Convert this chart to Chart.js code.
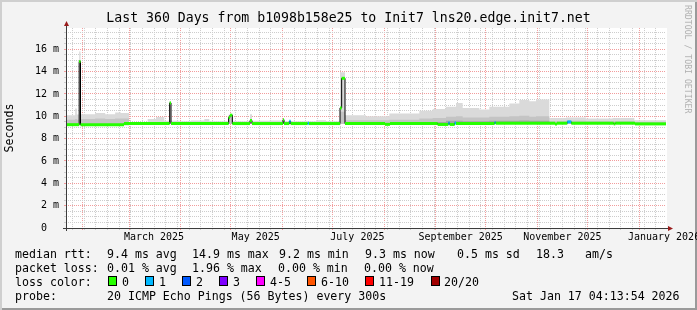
<!DOCTYPE html>
<html>
<head>
<meta charset="utf-8">
<script src="https://cdn.jsdelivr.net/npm/chart.js@4/dist/chart.umd.min.js"></script>
<style>
html, body { margin: 0; padding: 0; background: #fff; }
#wrap { position: relative; width: 697px; height: 310px; background: #f3f3f3;
  box-shadow: inset 2px 2px 0 #cfcfcf, inset -2px -2px 0 #9a9a9a;
  font-family: 'DejaVu Sans Mono', monospace; font-size: 11.6px; color: #000; overflow: hidden; }
#wrap canvas { position: absolute; left: 0; top: 0; }
.t { position: absolute; white-space: pre; line-height: 14px; }
.box { position: absolute; top: 276px; width: 9px; height: 10px; box-sizing: border-box; border: 1px solid #000; }
#mark { position: absolute; left: 692px; top: 5px; transform: rotate(90deg); transform-origin: 0 0;
  font-size: 8.2px; line-height: 8.2px; color: #b0b0b0; white-space: pre; }
</style>
</head>
<body>
<div id="wrap">
  <canvas id="myChart" width="697" height="310"></canvas>

  <div class="t" style="left:15px;top:247px">median rtt:</div>
  <div class="t" style="left:107px;top:247px">9.4 ms avg</div>
  <div class="t" style="left:192px;top:247px">14.9 ms max</div>
  <div class="t" style="left:279px;top:247px">9.2 ms min</div>
  <div class="t" style="left:365px;top:247px">9.3 ms now</div>
  <div class="t" style="left:457px;top:247px">0.5 ms sd</div>
  <div class="t" style="left:536px;top:247px">18.3</div>
  <div class="t" style="left:585px;top:247px">am/s</div>

  <div class="t" style="left:15px;top:261px">packet loss:</div>
  <div class="t" style="left:107px;top:261px">0.01 % avg</div>
  <div class="t" style="left:192px;top:261px">1.96 % max</div>
  <div class="t" style="left:278px;top:261px">0.00 % min</div>
  <div class="t" style="left:364px;top:261px">0.00 % now</div>

  <div class="t" style="left:15px;top:275px">loss color:</div>
  <div class="box" style="left:108px;background:#26ff00"></div><div class="t" style="left:122px;top:275px">0</div>
  <div class="box" style="left:145px;background:#00b8ff"></div><div class="t" style="left:159px;top:275px">1</div>
  <div class="box" style="left:182px;background:#0059ff"></div><div class="t" style="left:196px;top:275px">2</div>
  <div class="box" style="left:219px;background:#7e00ff"></div><div class="t" style="left:233px;top:275px">3</div>
  <div class="box" style="left:256px;background:#ff00ff"></div><div class="t" style="left:270px;top:275px">4-5</div>
  <div class="box" style="left:307px;background:#ff5500"></div><div class="t" style="left:321px;top:275px">6-10</div>
  <div class="box" style="left:365px;background:#ff0000"></div><div class="t" style="left:379px;top:275px">11-19</div>
  <div class="box" style="left:431px;background:#a10000"></div><div class="t" style="left:444px;top:275px">20/20</div>

  <div class="t" style="left:15px;top:289px">probe:</div>
  <div class="t" style="left:107px;top:289px">20 ICMP Echo Pings (56 Bytes) every 300s</div>
  <div class="t" style="left:512px;top:289px">Sat Jan 17 04:13:54 2026</div>

  <div id="mark">RRDTOOL / TOBI OETIKER</div>
</div>

<script>
// x values are days since the start of the graph (360 days back from Jan 17 2026 04:13:54)
const T0 = Date.UTC(2025, 0, 22, 4, 13, 54)
function dayOf(y, m, d) { return (Date.UTC(y, m, d) - T0) / 864e5 }

// loss colour per number of lost pings (0, 1, 2, 3, 4-5, 6-10, 11-19, 20)
const lossColors = ['#26ff00', '#00b8ff', '#0059ff', '#7e00ff', '#ff00ff', '#ff5500', '#ff0000', '#a10000']

// median rtt (ms), as change points: value holds until the next day
const medDays = [0, 7.9, 8.7, 34.8, 62.2, 63.0, 97.6, 98.4, 99.8, 110.4, 111.6, 130.2, 130.8, 134.0, 134.8, 145.0, 145.8,
  164.4, 165.4, 167.4, 191.4, 194.4, 223.0, 229.4, 230.2, 233.2, 234.0, 257.2, 257.8, 293.4, 294.6, 300.8, 303.2, 328.6, 329.6, 341.4]
const medVals = [9.25, 14.9, 9.25, 9.35, 11.2, 9.35, 9.9, 10.1, 9.35, 9.62, 9.35, 9.7, 9.35, 9.55, 9.35, 9.38, 9.35,
  10.75, 13.4, 9.35, 9.28, 9.35, 9.27, 9.4, 9.27, 9.4, 9.35, 9.45, 9.38, 9.3, 9.38, 9.5, 9.38, 9.32, 9.38, 9.32]
const medLoss = [0, 0, 0, 0, 0, 0, 0, 0, 0, 0, 0, 0, 0, 1, 0, 1, 0,
  0, 0, 0, 0, 0, 0, 1, 0, 1, 0, 1, 0, 0, 0, 1, 0, 0, 0, 0]

// smoke (spread of the 20 pings), change points
const smokeDays = [0, 5.5, 6.5, 7.9, 8.7, 17.5, 23.5, 29.5, 33, 37.8, 49, 54, 59, 62.2, 63, 68, 75, 83, 86, 97.6,
  100, 110.4, 111.6, 122, 130, 150, 156, 164.4, 167.4, 180, 194, 212, 220, 228, 234, 238, 248, 254, 266, 272,
  278, 282, 290, 300, 312, 328, 341]
const smokeHi = [10.1, 10.7, 10.15, 15.8, 10.18, 10.3, 10.18, 10.33, 10.3, 9.5, 9.75, 9.94, 9.6, 11.35, 9.6, 9.55, 9.62, 9.76, 9.55, 10.15,
  9.55, 10.18, 9.6, 9.62, 9.55, 9.65, 9.55, 13.95, 10.1, 10.0, 10.25, 10.5, 10.65, 10.85, 11.2, 10.75, 10.6, 10.85, 11.15, 11.45,
  11.35, 11.5, 9.85, 9.9, 9.8, 9.85, 9.65]
const smokeMid = [9.7, 9.75, 9.7, 10.5, 9.75, 9.8, 9.75, 9.8, 9.8, 9.42, 9.45, 9.5, 9.45, 9.6, 9.42, 9.42, 9.45, 9.48, 9.42, 9.9,
  9.42, 9.6, 9.42, 9.45, 9.42, 9.45, 9.42, 10.4, 9.65, 9.65, 9.7, 9.8, 9.85, 9.95, 10.0, 9.9, 9.9, 9.95, 10.0, 10.05,
  9.95, 10.0, 9.55, 9.6, 9.55, 9.55, 9.48]
const smokeDark = [9.2, 9.2, 9.2, 9.2, 9.2, 9.2, 9.2, 9.2, 9.2, 9.3, 9.3, 9.3, 9.3, 9.3, 9.3, 9.3, 9.3, 9.3, 9.3, 9.3,
  9.3, 9.3, 9.3, 9.3, 9.3, 9.3, 9.3, 9.3, 9.3, 9.3, 9.3, 9.5, 9.5, 9.6, 9.6, 9.55, 9.55, 9.6, 9.6, 9.62,
  9.6, 9.6, 9.3, 9.3, 9.3, 9.3, 9.3]
const smokeLo = [9.2, 9.2, 9.2, 9.2, 9.2, 9.2, 9.2, 9.2, 9.2, 9.3, 9.3, 9.3, 9.3, 9.3, 9.3, 9.3, 9.3, 9.3, 9.3, 9.3,
  9.3, 9.3, 9.3, 9.3, 9.3, 9.3, 9.3, 9.3, 9.3, 9.3, 9.3, 9.3, 9.3, 9.3, 9.3, 9.3, 9.3, 9.3, 9.3, 9.3,
  9.3, 9.3, 9.3, 9.3, 9.3, 9.3, 9.3]

// axis labels
const xLabels = ['March 2025', 'May 2025', 'July 2025', 'September 2025', 'November 2025', 'January 2026']
const xLabelMonths = [2, 4, 6, 8, 10, 12]
const END = 360

const MAJOR = '#f29c9c'
const MINOR = '#cdcdcd'
const NONE = 'rgba(0,0,0,0)'
const FONT = 'DejaVu Sans Mono'

function near(list, v) { return list.findIndex(d => Math.abs(d - v) < 0.01) }

// month starts (red lines), weekly sundays (grey lines), mid-month label positions
const monthDays = []
for (let m = 1; m <= 12; m++) monthDays.push(dayOf(2025, m, 1))
const weekDays = []
for (let d = dayOf(2025, 0, 26); d < END; d += 7) {
  if (near(monthDays, d) < 0) weekDays.push(d)
}
const labelDays = xLabelMonths.map(m => dayOf(2025, m, 1) + 15)
// one tick per position (some labels fall on a sunday)
const xTicks = weekDays.concat(monthDays, labelDays.filter(d => near(weekDays, d) < 0)).sort((a, b) => a - b)
const yTicks = []
for (let v = 0; v <= 17.5; v += 0.5) yTicks.push(v)

function xGridColor(c) {
  if (!c.tick) return NONE
  const v = c.tick.value
  if (near(monthDays, v) >= 0) return MAJOR
  if (near(weekDays, v) >= 0) return MINOR
  return NONE
}
function yGridColor(c) {
  if (!c.tick) return NONE
  const v = c.tick.value
  if (v === 0) return NONE
  return Math.abs(v % 2) < 1e-9 ? MAJOR : MINOR
}

// stepped series from change points
function steps(days, vals) {
  const pts = days.map((d, i) => ({x: d, y: vals[i]}))
  pts.push({x: END, y: vals[vals.length - 1]})
  return pts
}

// green line: only the flat parts, coloured by loss
const greenPts = []
const greenLoss = []
for (let i = 0; i < medDays.length; i++) {
  const end = i + 1 < medDays.length ? medDays[i + 1] : END
  greenPts.push({x: medDays[i], y: medVals[i]}, {x: end, y: medVals[i]}, {x: end, y: null})
  greenLoss.push(medLoss[i], medLoss[i], medLoss[i])
}

const plotBg = {
  id: 'plotBg',
  beforeDraw(chart) {
    const a = chart.chartArea
    const c = chart.ctx
    c.save()
    c.fillStyle = '#ffffff'
    c.fillRect(a.left, a.top, a.right - a.left + 1, a.bottom - a.top)
    c.restore()
  }
}

const axisArrows = {
  id: 'axisArrows',
  afterDraw(chart) {
    const {left, right, top, bottom} = chart.chartArea
    const c = chart.ctx
    c.save()
    c.strokeStyle = '#3c3c3c'
    c.lineWidth = 1
    c.beginPath()
    c.moveTo(left + 0.5, bottom + 3)
    c.lineTo(left + 0.5, top - 3)
    c.moveTo(left - 3, bottom + 0.5)
    c.lineTo(right + 3, bottom + 0.5)
    c.stroke()
    c.fillStyle = '#9a1c1c'
    c.beginPath()
    c.moveTo(left - 2, top - 2)
    c.lineTo(left + 3, top - 2)
    c.lineTo(left + 0.5, top - 7)
    c.closePath()
    c.fill()
    c.beginPath()
    c.moveTo(right + 2, bottom - 2)
    c.lineTo(right + 2, bottom + 3)
    c.lineTo(right + 7, bottom + 0.5)
    c.closePath()
    c.fill()
    c.restore()
  }
}

function smokeSet(vals, color, order) {
  return {
    data: steps(smokeDays, vals), stepped: true, fill: 0,
    backgroundColor: color, borderColor: NONE, borderWidth: 0,
    pointRadius: 0, order: order
  }
}

var ctx = document.getElementById('myChart').getContext('2d')
var chart = new Chart(ctx, {
  type: 'line',
  data: {
    datasets: [
      { data: steps(smokeDays, smokeLo), stepped: true, borderWidth: 0, borderColor: NONE, pointRadius: 0, fill: false, order: 9 },
      smokeSet(smokeHi, '#dadada', 8),
      smokeSet(smokeMid, '#c4c4c4', 7),
      smokeSet(smokeDark, '#a4a4a4', 6),
      // thin black median (shows the vertical jumps)
      { data: steps(medDays, medVals), stepped: true, borderColor: '#000000', borderWidth: 1, pointRadius: 0, fill: false, order: 2 },
      // thick median coloured by packet loss
      { data: greenPts, borderWidth: 3, pointRadius: 0, fill: false, spanGaps: false, order: 1,
        borderColor: lossColors[0],
        segment: { borderColor: s => lossColors[greenLoss[s.p0DataIndex]] } }
    ]
  },
  options: {
    responsive: false,
    animation: false,
    events: [],
    layout: { padding: { left: 0, right: 0, top: 0, bottom: 62 } },
    plugins: {
      legend: { display: false },
      tooltip: { enabled: false },
      title: {
        display: true,
        text: 'Last 360 Days from b1098b158e25 to Init7 lns20.edge.init7.net',
        color: '#000',
        font: { family: FONT, size: 13.2, weight: 'normal' },
        padding: { top: 10.8, bottom: 1.4 }
      }
    },
    scales: {
      x: {
        type: 'linear', min: 0, max: END,
        afterBuildTicks: s => { s.ticks = xTicks.map(v => ({value: v})) },
        afterFit: s => { s.height = 20; s.paddingLeft = 0; s.paddingRight = 0 },
        ticks: {
          autoSkip: false, maxRotation: 0, minRotation: 0, padding: 1.5, color: '#000',
          font: { family: FONT, size: 10 },
          callback: v => { const i = near(labelDays, v); return i >= 0 ? xLabels[i] : '' }
        },
        grid: { color: xGridColor, tickColor: xGridColor, tickLength: 2, lineWidth: 1 },
        border: { display: false, dash: [1, 1] }
      },
      y: {
        type: 'linear', min: 0, max: 17.9,
        afterBuildTicks: s => { s.ticks = yTicks.map(v => ({value: v})) },
        afterFit: s => { s.width = 66 },
        ticks: {
          autoSkip: false, padding: 5, color: '#000',
          font: { family: FONT, size: 10 },
          callback: v => v === 0 ? '0  ' : (Math.abs(v % 2) < 1e-9 ? v + ' m' : '')
        },
        grid: { color: yGridColor, tickColor: yGridColor, tickLength: 2, lineWidth: 1 },
        border: { display: false, dash: [1, 1] },
        title: {
          display: true, text: 'Seconds', color: '#000',
          font: { family: FONT, size: 11.6 },
          padding: { top: 3.5, bottom: 0 }
        }
      },
      // empty right-hand strip (keeps the plot at rrdtool's width)
      yRight: {
        type: 'linear', position: 'right', display: true,
        afterFit: s => { s.width = 31 },
        ticks: { display: false },
        grid: { display: false, drawOnChartArea: false },
        border: { display: false }
      }
    }
  },
  plugins: [plotBg, axisArrows]
})
</script>
</body>
</html>
